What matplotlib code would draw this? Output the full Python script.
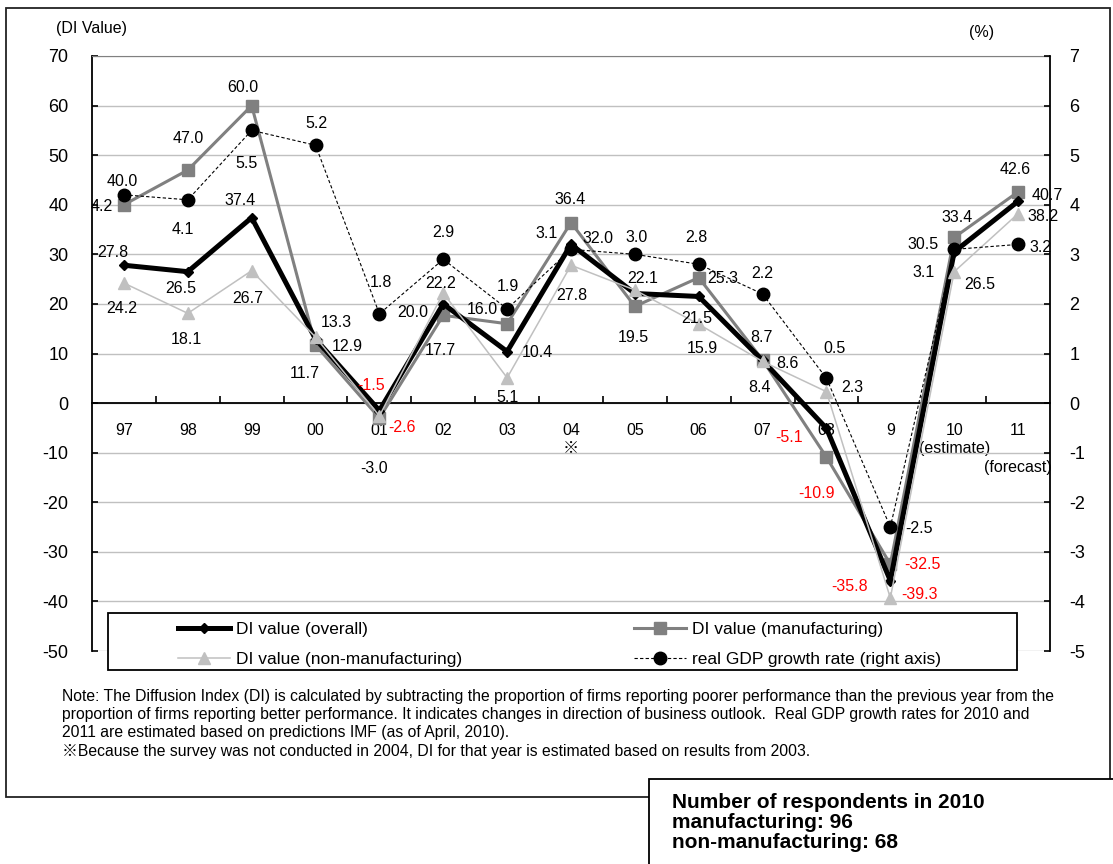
import matplotlib
matplotlib.use('Agg')
import matplotlib.pyplot as plt
import numpy as np
from matplotlib.lines import Line2D
from matplotlib.patches import Rectangle

plt.rcParams['font.family'] = ['Liberation Sans', 'Noto Sans CJK JP', 'DejaVu Sans']
plt.rcParams['axes.unicode_minus'] = False

# Data
years = ['97', '98', '99', '00', '01', '02', '03', '04\n※', '05', '06', '07', '08', '9',
         '10\n(estimate)', '11\n\n(forecast)']
di_overall = [27.8, 26.5, 37.4, 12.9, -1.5, 20.0, 10.4, 32.0, 22.1, 21.5, 8.6, -5.1, -35.8, 30.5, 40.7]
di_manufacturing = [40.0, 47.0, 60.0, 11.7, -3.0, 17.7, 16.0, 36.4, 19.5, 25.3, 8.7, -10.9, -32.5, 33.4, 42.6]
di_non_manufacturing = [24.2, 18.1, 26.7, 13.3, -2.6, 22.2, 5.1, 27.8, 22.8, 15.9, 8.4, 2.3, -39.3, 26.5, 38.2]
gdp_growth = [4.2, 4.1, 5.5, 5.2, 1.8, 2.9, 1.9, 3.1, 3.0, 2.8, 2.2, 0.5, -2.5, 3.1, 3.2]

note_text = ("Note: The Diffusion Index (DI) is calculated by subtracting the proportion of firms reporting poorer "
             "performance than the previous year from the\n"
             "proportion of firms reporting better performance. It indicates changes in direction of business "
             "outlook.  Real GDP growth rates for 2010 and\n"
             "2011 are estimated based on predictions IMF (as of April, 2010).\n"
             "※Because the survey was not conducted in 2004, DI for that year is estimated based on results from 2003.")
box_text = "Number of respondents in 2010\nmanufacturing: 96\nnon-manufacturing: 68"

# Label offsets in pixels (dx, dy downwards); None = no label shown
off_overall = [(-11, -13), (-7, 17), (-12, -17), (32, 7), (-8, -25), (-31, 9), (30, 1), (27, -6),
               (8, -15), (-2, 22), (25, 3), (-37, 9), (-41, 6), (-31, -7), (29, -6)]
off_manu = [(-2, -23), (0, -32), (-9, -18), (-11, 28), (-5, 51), (-3, 35), (-25, -14), (-1, -23),
            (-2, 31), (24, 1), (-1, -22), (-10, 36), (32, 0), (3, -20), (-3, -22)]
off_non = [(-2, 25), (-1, 26), (-4, 28), (21, -15), (23, 12), (-3, -10), (0, 20), (1, 30),
           None, (4, 24), (-3, 26), (26, -4), (29, -3), (26, 13), (25, 3)]
off_gdp = [(-22, 12), (-5, 30), (-5, 33), (1, -22), (2, -31), (0, -27), (1, -22), (-24, -16),
           (2, -17), (-2, -27), (0, -21), (8, -30), (29, 1), (-31, 23), (22, 3)]
red_overall = {4, 11, 12}
red_manu = {11, 12}
red_non = {4, 12}

W, H = 1113, 864
fig = plt.figure(figsize=(W / 100, H / 100), dpi=100)


def fx(px):
    return px / W


def fy(py):
    return 1 - py / H


# outer frame
fig.add_artist(Rectangle((fx(6), fy(797)), fx(1110) - fx(6), fy(8) - fy(797), transform=fig.transFigure,
                         fill=False, edgecolor='#222222', linewidth=1.3, zorder=0))

ax = fig.add_axes([fx(92), fy(651), fx(1050) - fx(92), fy(56) - fy(651)])
x = np.arange(len(years))

ax.plot(x, di_manufacturing, color='#808080', lw=2.2, marker='s', ms=8.5, zorder=3)
ax.plot(x, di_overall, color='black', lw=3.6, marker='D', ms=5.5, zorder=4)
ax.plot(x, di_non_manufacturing, color='#C0C0C0', lw=1.1, marker='^', ms=8.5, zorder=5)

ax.set_xlim(-0.5, len(years) - 0.5)
ax.set_ylim(-50, 70)
ax.set_yticks(np.arange(-50, 71, 10))
ax.grid(axis='y', color='#C0C0C0', lw=1)
ax.set_axisbelow(True)
ax.spines['bottom'].set_position(('data', 0))
ax.spines['bottom'].set_linewidth(1.3)
ax.spines['left'].set_linewidth(1.3)
ax.spines['top'].set_color('#808080')
ax.spines['right'].set_visible(False)
ax.set_xticks(x)
ax.set_xticklabels(years)
ax.set_xticks(np.arange(0.5, len(years) - 1, 1), minor=True)
ax.tick_params(axis='x', which='major', length=0, pad=14, labelsize=11.5)
ax.tick_params(axis='x', which='minor', direction='in', length=5, width=1.2)
ax.tick_params(axis='y', direction='in', length=4, width=1.2, pad=17, labelsize=13)
for lbl in ax.get_xticklabels():
    lbl.set_verticalalignment('top')
    lbl.set_linespacing(1.3)

ax2 = ax.twinx()
ax2.plot(x, gdp_growth, color='black', lw=0.8, ls=(0, (3, 2)), marker='o', ms=9, zorder=6)
ax2.set_ylim(-5, 7)
ax2.set_yticks(np.arange(-5, 8, 1))
for s in ['top', 'left', 'bottom']:
    ax2.spines[s].set_visible(False)
ax2.spines['right'].set_linewidth(1.3)
ax2.tick_params(axis='y', direction='in', length=4, width=1.2, pad=14, labelsize=13)


def label_series(axis, values, offsets, reds):
    for i, (v, off) in enumerate(zip(values, offsets)):
        if off is None:
            continue
        axis.annotate(f'{v:.1f}', (i, v), xytext=(off[0], -off[1]), textcoords='offset pixels',
                      ha='center', va='center', fontsize=11.5,
                      color='#FF0000' if i in reds else 'black', zorder=10)


label_series(ax, di_overall, off_overall, red_overall)
label_series(ax, di_manufacturing, off_manu, red_manu)
label_series(ax, di_non_manufacturing, off_non, red_non)
label_series(ax2, gdp_growth, off_gdp, set())

fig.text(fx(92), fy(28), '(DI Value)', ha='center', va='center', fontsize=11.5)
fig.text(fx(982), fy(32), '(%)', ha='center', va='center', fontsize=11.5)

# legend
fig.add_artist(Rectangle((fx(108), fy(670)), fx(1017) - fx(108), fy(613) - fy(670), transform=fig.transFigure,
                         facecolor='white', edgecolor='black', linewidth=1.3, zorder=8))
handles = [
    Line2D([], [], color='black', lw=3.6, marker='D', ms=5.5),
    Line2D([], [], color='#C0C0C0', lw=1.1, marker='^', ms=8.5),
    Line2D([], [], color='#808080', lw=2.2, marker='s', ms=8.5),
    Line2D([], [], color='black', lw=0.8, ls=(0, (3, 2)), marker='o', ms=9),
]
labels = ['DI value (overall)', 'DI value (non-manufacturing)', 'DI value (manufacturing)',
          'real GDP growth rate (right axis)']
leg = fig.legend(handles, labels, ncol=2, frameon=False, loc='upper left',
                 bbox_to_anchor=(fx(178), fy(622)), borderaxespad=0, borderpad=0,
                 handlelength=3.0, handletextpad=0.35, columnspacing=9.9, labelspacing=0.85,
                 fontsize=12.5)
leg.set_zorder(9)

fig.text(fx(62), fy(689), note_text, ha='left', va='top', fontsize=11.3, linespacing=1.27)

# respondents box
fig.add_artist(Rectangle((fx(649), fy(880)), fx(1130) - fx(649), fy(779) - fy(880), transform=fig.transFigure,
                         facecolor='white', edgecolor='black', linewidth=1.3, zorder=8))
fig.text(fx(672), fy(793), box_text, ha='left', va='top', fontsize=15, fontweight='bold',
         linespacing=1.08, zorder=9)

fig.savefig('out.png', dpi=100)
